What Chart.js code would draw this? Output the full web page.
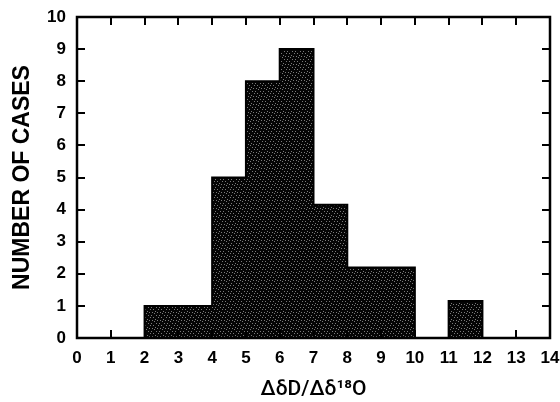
<!DOCTYPE html>
<html><head><meta charset="utf-8">
<script src="https://cdn.jsdelivr.net/npm/chart.js@4/dist/chart.umd.min.js"></script>
<style>html,body{margin:0;padding:0;background:#fff}</style>
</head><body>
<canvas id="c" width="560" height="402"></canvas>
<script>
// Histogram bins: [binEdges[i], binEdges[i+1]) has count binCounts[i]
const binEdges  = [2, 4, 5, 6, 7, 8, 10, 11, 12];
const binCounts = [1, 5, 8, 9, 4.15, 2.2, 0, 1.15];
const xTickValues = [0,1,2,3,4,5,6,7,8,9,10,11,12,13,14];
const yTickValues = [0,1,2,3,4,5,6,7,8,9,10];
const xTitle = 'ΔδD/Δδ¹⁸O';
const yTitle = 'NUMBER OF CASES';

// step outline points
const points = [{x: binEdges[0], y: 0}];
for (let i = 0; i < binCounts.length; i++) points.push({x: binEdges[i], y: binCounts[i]});
points.push({x: binEdges[binEdges.length - 1], y: 0});

// halftone-like fill pattern
function makePattern() {
  const p = document.createElement('canvas');
  p.width = 8; p.height = 8;
  const g = p.getContext('2d');
  g.fillStyle = '#050505'; g.fillRect(0, 0, 8, 8);
  g.fillStyle = '#7a7a7a';
  const dots = [[0,0],[2,1],[5,0],[7,3],[4,3],[6,5],[1,5],[3,7]];
  dots.forEach(d => g.fillRect(d[0], d[1], 1, 1));
  return g.createPattern(p, 'repeat');
}
const ctx = document.getElementById('c').getContext('2d');
const pattern = makePattern();

const frameTicks = {
  id: 'frameTicks',
  afterDatasetsDraw(chart) {
    const {ctx, chartArea: a, scales: {x, y}} = chart;
    ctx.save();
    ctx.strokeStyle = '#000';
    ctx.lineWidth = 2;
    const L = 8;
    ctx.beginPath();
    xTickValues.forEach(v => {
      const px = Math.round(x.getPixelForValue(v));
      ctx.moveTo(px, a.top); ctx.lineTo(px, a.top + L);
      ctx.moveTo(px, a.bottom); ctx.lineTo(px, a.bottom - L);
    });
    yTickValues.forEach(v => {
      const py = Math.round(y.getPixelForValue(v));
      ctx.moveTo(a.left, py); ctx.lineTo(a.left + L, py);
      ctx.moveTo(a.right, py); ctx.lineTo(a.right - L, py);
    });
    ctx.stroke();
    ctx.lineWidth = 2.5;
    ctx.strokeRect(a.left, a.top, a.right - a.left, a.bottom - a.top);
    ctx.restore();
  }
};

new Chart(ctx, {
  type: 'line',
  data: {
    datasets: [{
      data: points,
      stepped: 'before',
      fill: 'origin',
      backgroundColor: pattern,
      borderColor: '#000',
      borderWidth: 2,
      pointRadius: 0,
      tension: 0
    }]
  },
  options: {
    responsive: false,
    animation: false,
    events: [],
    layout: {padding: {top: 17, right: 10, left: 0, bottom: 0}},
    plugins: {legend: {display: false}, tooltip: {enabled: false}},
    scales: {
      x: {
        type: 'linear', min: 0, max: 14,
        afterBuildTicks: s => { s.ticks = xTickValues.map(v => ({value: v})); },
        afterFit: s => { s.height = 64; s.paddingLeft = 0; s.paddingRight = 0; },
        grid: {display: false, drawTicks: false},
        border: {display: false},
        ticks: {padding: 10, color: '#000', maxRotation: 0, autoSkip: false,
                font: {family: 'Liberation Sans', weight: 'bold', size: 17}},
        title: {display: true, text: xTitle, color: '#000',
                font: {family: 'Roboto', weight: '500', size: 21}, padding: {top: 0, bottom: 0}}
      },
      y: {
        type: 'linear', min: 0, max: 10,
        afterBuildTicks: s => { s.ticks = yTickValues.map(v => ({value: v})); },
        afterFit: s => { s.width = 77; s.paddingTop = 0; s.paddingBottom = 0; },
        grid: {display: false, drawTicks: false},
        border: {display: false},
        ticks: {padding: 11, color: '#000', autoSkip: false,
                font: {family: 'Liberation Sans', weight: 'bold', size: 17}},
        title: {display: true, text: yTitle, color: '#000',
                font: {family: 'Liberation Sans', weight: 'bold', size: 23}, padding: {top: 9, bottom: 0}}
      }
    }
  },
  plugins: [frameTicks]
});
</script>
</body></html>
